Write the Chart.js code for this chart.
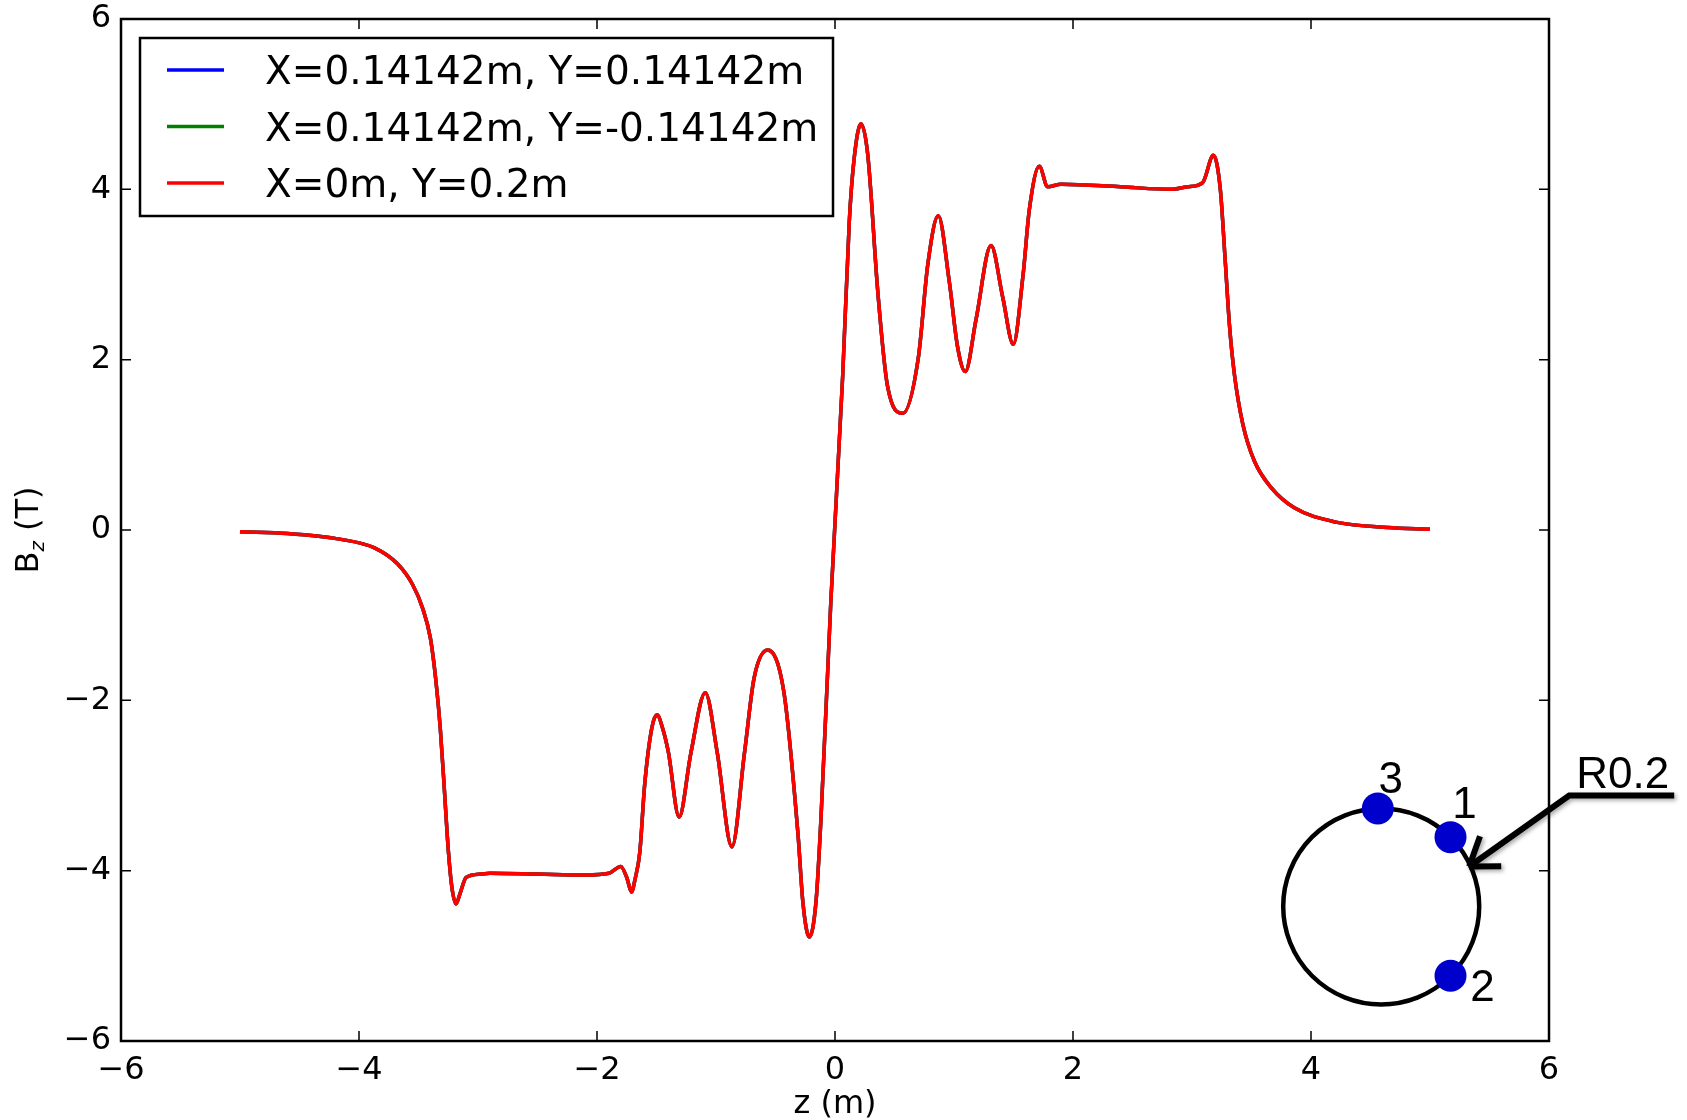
<!DOCTYPE html>
<html>
<head>
<meta charset="utf-8">
<script src="https://cdn.jsdelivr.net/npm/chart.js@4.4.1/dist/chart.umd.min.js"></script>
<style>
  html, body { margin: 0; padding: 0; background: #fff; }
  #wrap { width: 1687px; height: 1120px; }
</style>
</head>
<body>
<div id="wrap"><canvas id="bzChart" width="1687" height="1120"></canvas></div>
<script>
// z positions (m)
const zValues = [
  -5.0, -4.6, -4.15, -3.87, -3.675, -3.55, -3.465, -3.40, -3.353, -3.317, -3.283, -3.25, -3.221, -3.185, -3.149, -3.10,
  -2.975, -2.9, -2.5, -2.1, -1.9, -1.80, -1.75, -1.71, -1.68, -1.64, -1.60, -1.54, -1.496, -1.448, -1.40,
  -1.31, -1.21, -1.09, -0.99, -0.866, -0.76, -0.68, -0.566, -0.43, -0.31, -0.27, -0.216, -0.16, -0.118,
  -0.035, 0.065, 0.12, 0.16, 0.218, 0.275, 0.36, 0.44, 0.57, 0.70, 0.78, 0.868, 0.96, 1.03, 1.095,
  1.185, 1.311, 1.41, 1.498, 1.58, 1.633, 1.717, 1.787, 1.9, 2.4, 2.82, 2.96, 3.09, 3.18, 3.238,
  3.277, 3.314, 3.356, 3.426, 3.524, 3.664, 3.86, 4.22, 4.645, 5.0
];
// B_z (T) at those positions - the three probe points give the same curve
const bzValues = [
  -0.02, -0.04, -0.11, -0.21, -0.40, -0.64, -0.92, -1.27, -1.78, -2.33, -3.04, -3.75, -4.18, -4.39, -4.26, -4.08,
  -4.04, -4.03, -4.04, -4.05, -4.03, -3.95, -4.08, -4.25, -4.1, -3.78, -3.0, -2.33, -2.17, -2.33, -2.61,
  -3.37, -2.61, -1.91, -2.61, -3.72, -2.61, -1.74, -1.41, -1.90, -3.59, -4.37, -4.78, -4.37, -3.39,
  -0.84, 1.82, 3.62, 4.35, 4.77, 4.41, 2.79, 1.70, 1.37, 2.02, 3.12, 3.69, 2.92, 2.15, 1.86,
  2.47, 3.34, 2.73, 2.18, 2.99, 3.76, 4.27, 4.03, 4.06, 4.03, 4.00, 4.03, 4.08, 4.40, 4.0,
  3.21, 2.42, 1.83, 1.25, 0.81, 0.50, 0.26, 0.09, 0.03, 0.01
];
const seriesLabels = ['X=0.14142m, Y=0.14142m', 'X=0.14142m, Y=-0.14142m', 'X=0m, Y=0.2m'];
const seriesColors = ['#0000ff', '#008000', '#ff0000'];
const xTicks = [-6, -4, -2, 0, 2, 4, 6];
const yTicks = [-6, -4, -2, 0, 2, 4, 6];
// probe points on the R0.2 circle sketch (angle in degrees)
const probeLabels = ['1', '2', '3'];
const probeAngles = [45, -45, 92];

const points = zValues.map((z, i) => ({ x: z, y: bzValues[i] }));
const minus = v => String(v).replace('-', '\u2212');

const datasets = seriesLabels.map((label, i) => ({
  label: label,
  data: points,
  borderColor: seriesColors[i],
  backgroundColor: seriesColors[i],
  borderWidth: 3.5,
  pointRadius: 0,
  showLine: true,
  cubicInterpolationMode: 'monotone',
  order: seriesLabels.length - 1 - i // red on top, like the original
}));

// frame, inward ticks, y title, legend box and the circle sketch
const extrasPlugin = {
  id: 'extras',
  afterDraw(chart) {
    const ctx = chart.ctx;
    const ca = chart.chartArea;
    const xs = chart.scales.x, ys = chart.scales.y;
    ctx.save();

    // inward tick marks on all four sides
    ctx.strokeStyle = '#000';
    ctx.lineWidth = 1.5;
    ctx.beginPath();
    xTicks.forEach(v => {
      const px = xs.getPixelForValue(v);
      ctx.moveTo(px, ca.bottom); ctx.lineTo(px, ca.bottom - 10);
      ctx.moveTo(px, ca.top); ctx.lineTo(px, ca.top + 10);
    });
    yTicks.forEach(v => {
      const py = ys.getPixelForValue(v);
      ctx.moveTo(ca.left, py); ctx.lineTo(ca.left + 10, py);
      ctx.moveTo(ca.right, py); ctx.lineTo(ca.right - 10, py);
    });
    ctx.stroke();

    // frame
    ctx.lineWidth = 2.5;
    ctx.strokeRect(ca.left, ca.top, ca.right - ca.left, ca.bottom - ca.top);

    // y title B_z (T)
    ctx.save();
    ctx.translate(38, (ca.top + ca.bottom) / 2);
    ctx.rotate(-Math.PI / 2);
    ctx.fillStyle = '#000';
    ctx.textBaseline = 'alphabetic';
    ctx.textAlign = 'left';
    const big = '32px "DejaVu Sans"', small = 'italic 20px "DejaVu Sans"';
    ctx.font = big; const wB = ctx.measureText('B').width; const wR = ctx.measureText(' (T)').width;
    ctx.font = small; const wz = ctx.measureText('z').width;
    let sx = -(wB + wz + wR) / 2;
    ctx.font = big; ctx.fillText('B', sx, 0); sx += wB;
    ctx.font = small; ctx.fillText('z', sx, 6); sx += wz;
    ctx.font = big; ctx.fillText(' (T)', sx, 0);
    ctx.restore();

    // legend box inside the axes
    const lx = ca.left + 19, ly = ca.top + 19, lw = 693, lh = 178;
    ctx.fillStyle = '#fff';
    ctx.fillRect(lx, ly, lw, lh);
    ctx.lineWidth = 2.5;
    ctx.strokeStyle = '#000';
    ctx.strokeRect(lx, ly, lw, lh);
    ctx.font = '39px "DejaVu Sans"';
    ctx.textBaseline = 'alphabetic';
    ctx.textAlign = 'left';
    chart.data.datasets.forEach((ds, i) => {
      const ry = ly + 32 + i * 56.5;
      ctx.strokeStyle = ds.borderColor;
      ctx.lineWidth = 3.5;
      ctx.beginPath(); ctx.moveTo(lx + 27, ry); ctx.lineTo(lx + 84, ry); ctx.stroke();
      ctx.fillStyle = '#000';
      ctx.fillText(ds.label, lx + 125, ry + 14);
    });

    // circle sketch with probe points
    const cx = xs.getPixelForValue(4.59), cy = ys.getPixelForValue(-4.42), r = 98;
    ctx.strokeStyle = '#000';
    ctx.lineWidth = 4.5;
    ctx.beginPath(); ctx.arc(cx, cy, r, 0, Math.PI * 2); ctx.stroke();
    const labelOffsets = { '1': [14, -19], '2': [32, 25], '3': [13, -15] };
    ctx.font = '44px "Liberation Sans"';
    ctx.textAlign = 'center';
    probeAngles.forEach((a, i) => {
      const t = a * Math.PI / 180;
      const px = cx + r * Math.cos(t), py = cy - r * Math.sin(t);
      ctx.fillStyle = '#0000cc';
      ctx.beginPath(); ctx.arc(px, py, 16, 0, Math.PI * 2); ctx.fill();
      const off = labelOffsets[probeLabels[i]];
      ctx.fillStyle = '#000';
      ctx.fillText(probeLabels[i], px + off[0], py + off[1]);
    });

    // R0.2 leader with arrow
    ctx.save();
    ctx.shadowColor = 'rgba(0,0,0,0.35)';
    ctx.shadowBlur = 4; ctx.shadowOffsetX = 2; ctx.shadowOffsetY = 2;
    ctx.strokeStyle = '#000';
    ctx.lineWidth = 6;
    const sx0 = cx + 188, sy0 = cy - 111, tx = cx + 88, ty = cy - 40;
    ctx.beginPath();
    ctx.moveTo(cx + 293, sy0); ctx.lineTo(sx0, sy0); ctx.lineTo(tx, ty);
    ctx.stroke();
    const ang = Math.atan2(sy0 - ty, sx0 - tx);
    ctx.beginPath();
    [-0.61, 0.61].forEach(d => {
      ctx.moveTo(tx, ty);
      ctx.lineTo(tx + 32 * Math.cos(ang + d), ty + 32 * Math.sin(ang + d));
    });
    ctx.stroke();
    ctx.restore();
    ctx.fillStyle = '#000';
    ctx.textAlign = 'left';
    ctx.font = '44px "Liberation Sans"';
    ctx.fillText('R0.2', cx + 195, cy - 118);

    ctx.restore();
  }
};

const config = {
  type: 'scatter',
  data: { datasets: datasets },
  options: {
    responsive: false,
    animation: false,
    devicePixelRatio: 1,
    layout: { padding: { top: 19, right: 138, left: 0, bottom: 0 } },
    plugins: {
      legend: { display: false },
      tooltip: { enabled: false },
      title: { display: false }
    },
    scales: {
      x: {
        type: 'linear',
        min: -6,
        max: 6,
        afterFit: s => { s.height = 79; s.paddingLeft = 0; s.paddingRight = 0; },
        afterBuildTicks: s => { s.ticks = xTicks.map(v => ({ value: v })); },
        grid: { display: false, drawTicks: false },
        border: { display: false },
        ticks: {
          padding: 10,
          color: '#000',
          font: { family: 'DejaVu Sans', size: 32 },
          maxRotation: 0,
          callback: v => minus(v)
        },
        title: {
          display: true,
          text: 'z (m)',
          color: '#000',
          font: { family: 'DejaVu Sans', size: 32 },
          padding: { top: 0, bottom: -4 }
        }
      },
      y: {
        type: 'linear',
        min: -6,
        max: 6,
        afterFit: s => { s.width = 121; s.paddingTop = 0; s.paddingBottom = 0; },
        afterBuildTicks: s => { s.ticks = yTicks.map(v => ({ value: v })); },
        grid: { display: false, drawTicks: false },
        border: { display: false },
        ticks: {
          padding: 10,
          color: '#000',
          font: { family: 'DejaVu Sans', size: 32 },
          callback: v => minus(v)
        }
      }
    }
  },
  plugins: [extrasPlugin]
};

const ctx = document.getElementById('bzChart').getContext('2d');
const bzChart = new Chart(ctx, config);
</script>
</body>
</html>
